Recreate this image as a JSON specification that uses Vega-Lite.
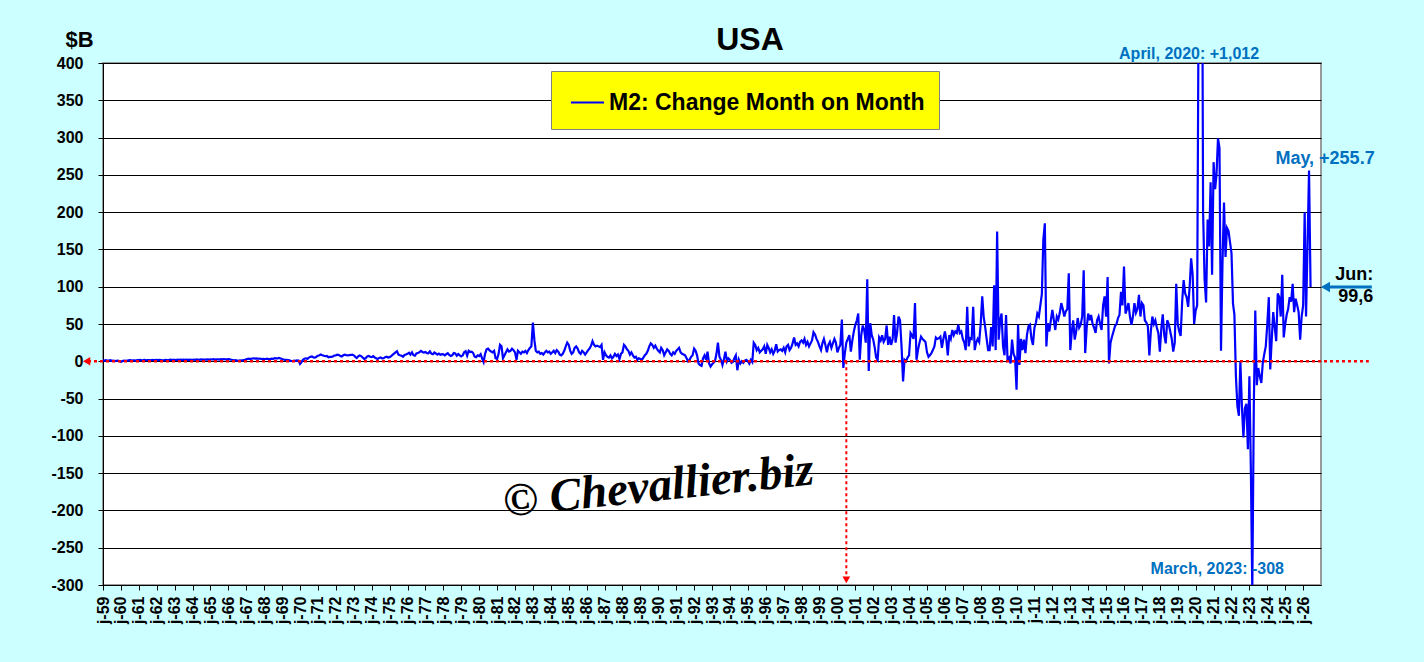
{
  "$schema": "https://vega.github.io/schema/vega-lite/v6.json",
  "width": 1218,
  "height": 522,
  "autosize": {"type": "none"},
  "padding": {"left": 103, "top": 63, "right": 103, "bottom": 77},
  "background": "#CCFFFF",
  "title": {"text": "USA", "fontSize": 32, "font": "Liberation Sans", "fontWeight": "bold", "color": "black", "anchor": "middle", "dx": 38, "dy": 33, "offset": 4},
  "config": {
    "view": {"fill": "white", "stroke": "#9A9A9A", "strokeWidth": 2},
    "axis": {"labelFont": "Liberation Sans", "labelFontWeight": "bold", "labelColor": "black", "labelFontSize": 16, "domainColor": "black", "tickColor": "black", "tickSize": 5, "titleFont": "Liberation Sans", "titleColor": "black"},
    "legend": {"orient": "none", "legendX": 448, "legendY": 8, "fillColor": "#FFFF00", "strokeColor": "#808080", "padding": 14, "symbolOffset": 5, "labelFont": "Liberation Sans", "labelFontSize": 23, "labelFontWeight": "bold", "labelColor": "black", "labelLimit": 600, "labelOffset": 4, "symbolType": "stroke", "symbolSize": 1089, "symbolStrokeWidth": 2}
  },
  "datasets": {
    "m2": [
{"d":"1959-01","v":1.2},{"d":"1959-02","v":1.0},{"d":"1959-03","v":1.4},{"d":"1959-04","v":0.8},{"d":"1959-05","v":1.1},{"d":"1959-06","v":1.5},{"d":"1959-07","v":0.6},{"d":"1959-08","v":0.9},{"d":"1959-09","v":0.3},{"d":"1959-10","v":0.7},{"d":"1959-11","v":1.0},{"d":"1959-12","v":0.5},
{"d":"1960-01","v":-0.6},{"d":"1960-02","v":0.2},{"d":"1960-03","v":0.8},{"d":"1960-04","v":0.6},{"d":"1960-05","v":1.0},{"d":"1960-06","v":1.2},{"d":"1960-07","v":1.6},{"d":"1960-08","v":1.4},{"d":"1960-09","v":1.1},{"d":"1960-10","v":1.3},{"d":"1960-11","v":1.0},{"d":"1960-12","v":1.5},
{"d":"1961-01","v":1.6},{"d":"1961-02","v":1.8},{"d":"1961-03","v":1.3},{"d":"1961-04","v":1.5},{"d":"1961-05","v":2.0},{"d":"1961-06","v":1.4},{"d":"1961-07","v":1.6},{"d":"1961-08","v":1.7},{"d":"1961-09","v":1.4},{"d":"1961-10","v":1.9},{"d":"1961-11","v":1.7},{"d":"1961-12","v":1.5},
{"d":"1962-01","v":1.8},{"d":"1962-02","v":1.6},{"d":"1962-03","v":2.0},{"d":"1962-04","v":1.7},{"d":"1962-05","v":1.4},{"d":"1962-06","v":1.5},{"d":"1962-07","v":1.8},{"d":"1962-08","v":1.6},{"d":"1962-09","v":1.7},{"d":"1962-10","v":2.1},{"d":"1962-11","v":1.9},{"d":"1962-12","v":1.8},
{"d":"1963-01","v":2.0},{"d":"1963-02","v":1.7},{"d":"1963-03","v":2.2},{"d":"1963-04","v":1.9},{"d":"1963-05","v":2.3},{"d":"1963-06","v":1.8},{"d":"1963-07","v":2.1},{"d":"1963-08","v":1.9},{"d":"1963-09","v":2.2},{"d":"1963-10","v":2.0},{"d":"1963-11","v":2.3},{"d":"1963-12","v":1.9},
{"d":"1964-01","v":2.1},{"d":"1964-02","v":2.3},{"d":"1964-03","v":1.9},{"d":"1964-04","v":2.4},{"d":"1964-05","v":2.0},{"d":"1964-06","v":2.3},{"d":"1964-07","v":2.6},{"d":"1964-08","v":2.2},{"d":"1964-09","v":2.4},{"d":"1964-10","v":2.3},{"d":"1964-11","v":2.5},{"d":"1964-12","v":2.3},
{"d":"1965-01","v":2.6},{"d":"1965-02","v":2.4},{"d":"1965-03","v":2.8},{"d":"1965-04","v":2.2},{"d":"1965-05","v":2.5},{"d":"1965-06","v":2.7},{"d":"1965-07","v":2.3},{"d":"1965-08","v":2.9},{"d":"1965-09","v":2.6},{"d":"1965-10","v":3.0},{"d":"1965-11","v":2.5},{"d":"1965-12","v":2.7},
{"d":"1966-01","v":2.8},{"d":"1966-02","v":2.5},{"d":"1966-03","v":2.1},{"d":"1966-04","v":1.7},{"d":"1966-05","v":1.3},{"d":"1966-06","v":1.5},{"d":"1966-07","v":0.7},{"d":"1966-08","v":1.0},{"d":"1966-09","v":1.3},{"d":"1966-10","v":0.9},{"d":"1966-11","v":1.6},{"d":"1966-12","v":2.0},
{"d":"1967-01","v":2.8},{"d":"1967-02","v":3.2},{"d":"1967-03","v":3.6},{"d":"1967-04","v":3.0},{"d":"1967-05","v":3.7},{"d":"1967-06","v":4.0},{"d":"1967-07","v":3.5},{"d":"1967-08","v":3.8},{"d":"1967-09","v":3.4},{"d":"1967-10","v":3.6},{"d":"1967-11","v":3.1},{"d":"1967-12","v":3.3},
{"d":"1968-01","v":2.9},{"d":"1968-02","v":3.1},{"d":"1968-03","v":3.4},{"d":"1968-04","v":2.8},{"d":"1968-05","v":3.0},{"d":"1968-06","v":3.6},{"d":"1968-07","v":3.2},{"d":"1968-08","v":4.2},{"d":"1968-09","v":3.8},{"d":"1968-10","v":4.0},{"d":"1968-11","v":4.4},{"d":"1968-12","v":3.7},
{"d":"1969-01","v":3.0},{"d":"1969-02","v":2.4},{"d":"1969-03","v":2.0},{"d":"1969-04","v":1.8},{"d":"1969-05","v":1.6},{"d":"1969-06","v":1.2},{"d":"1969-07","v":0.4},{"d":"1969-08","v":0.2},{"d":"1969-09","v":0.8},{"d":"1969-10","v":0.6},{"d":"1969-11","v":1.2},{"d":"1969-12","v":1.0},
{"d":"1970-01","v":-3.5},{"d":"1970-02","v":-1.0},{"d":"1970-03","v":2.0},{"d":"1970-04","v":3.5},{"d":"1970-05","v":4.0},{"d":"1970-06","v":3.2},{"d":"1970-07","v":5.0},{"d":"1970-08","v":6.0},{"d":"1970-09","v":6.5},{"d":"1970-10","v":5.2},{"d":"1970-11","v":4.8},{"d":"1970-12","v":6.1},
{"d":"1971-01","v":7.5},{"d":"1971-02","v":8.0},{"d":"1971-03","v":9.0},{"d":"1971-04","v":8.2},{"d":"1971-05","v":7.5},{"d":"1971-06","v":6.8},{"d":"1971-07","v":7.2},{"d":"1971-08","v":5.5},{"d":"1971-09","v":6.0},{"d":"1971-10","v":5.8},{"d":"1971-11","v":6.5},{"d":"1971-12","v":7.8},
{"d":"1972-01","v":8.0},{"d":"1972-02","v":9.0},{"d":"1972-03","v":8.5},{"d":"1972-04","v":7.2},{"d":"1972-05","v":6.5},{"d":"1972-06","v":8.0},{"d":"1972-07","v":8.8},{"d":"1972-08","v":8.2},{"d":"1972-09","v":7.8},{"d":"1972-10","v":8.2},{"d":"1972-11","v":8.5},{"d":"1972-12","v":9.0},
{"d":"1973-01","v":8.0},{"d":"1973-02","v":6.0},{"d":"1973-03","v":4.5},{"d":"1973-04","v":6.5},{"d":"1973-05","v":7.8},{"d":"1973-06","v":7.0},{"d":"1973-07","v":5.0},{"d":"1973-08","v":3.2},{"d":"1973-09","v":4.0},{"d":"1973-10","v":6.5},{"d":"1973-11","v":7.2},{"d":"1973-12","v":6.0},
{"d":"1974-01","v":5.5},{"d":"1974-02","v":6.8},{"d":"1974-03","v":5.2},{"d":"1974-04","v":4.0},{"d":"1974-05","v":3.0},{"d":"1974-06","v":4.5},{"d":"1974-07","v":5.2},{"d":"1974-08","v":3.8},{"d":"1974-09","v":4.0},{"d":"1974-10","v":5.5},{"d":"1974-11","v":6.2},{"d":"1974-12","v":5.0},
{"d":"1975-01","v":5.5},{"d":"1975-02","v":6.8},{"d":"1975-03","v":8.5},{"d":"1975-04","v":10.2},{"d":"1975-05","v":12.0},{"d":"1975-06","v":13.5},{"d":"1975-07","v":9.0},{"d":"1975-08","v":8.2},{"d":"1975-09","v":7.5},{"d":"1975-10","v":6.0},{"d":"1975-11","v":8.5},{"d":"1975-12","v":9.0},
{"d":"1976-01","v":10.0},{"d":"1976-02","v":11.5},{"d":"1976-03","v":9.0},{"d":"1976-04","v":12.0},{"d":"1976-05","v":8.2},{"d":"1976-06","v":7.5},{"d":"1976-07","v":10.5},{"d":"1976-08","v":11.0},{"d":"1976-09","v":12.2},{"d":"1976-10","v":14.0},{"d":"1976-11","v":12.5},{"d":"1976-12","v":11.8},
{"d":"1977-01","v":12.5},{"d":"1977-02","v":11.0},{"d":"1977-03","v":10.8},{"d":"1977-04","v":13.2},{"d":"1977-05","v":10.2},{"d":"1977-06","v":9.5},{"d":"1977-07","v":11.8},{"d":"1977-08","v":10.5},{"d":"1977-09","v":9.0},{"d":"1977-10","v":10.2},{"d":"1977-11","v":8.8},{"d":"1977-12","v":9.5},
{"d":"1978-01","v":9.2},{"d":"1978-02","v":8.0},{"d":"1978-03","v":9.5},{"d":"1978-04","v":10.8},{"d":"1978-05","v":8.5},{"d":"1978-06","v":7.2},{"d":"1978-07","v":8.0},{"d":"1978-08","v":11.0},{"d":"1978-09","v":10.5},{"d":"1978-10","v":7.5},{"d":"1978-11","v":9.8},{"d":"1978-12","v":8.0},
{"d":"1979-01","v":6.5},{"d":"1979-02","v":8.0},{"d":"1979-03","v":12.0},{"d":"1979-04","v":13.5},{"d":"1979-05","v":7.5},{"d":"1979-06","v":14.0},{"d":"1979-07","v":12.5},{"d":"1979-08","v":13.0},{"d":"1979-09","v":11.0},{"d":"1979-10","v":6.2},{"d":"1979-11","v":5.5},{"d":"1979-12","v":8.0},
{"d":"1980-01","v":7.0},{"d":"1980-02","v":9.5},{"d":"1980-03","v":4.0},{"d":"1980-04","v":-1.0},{"d":"1980-05","v":10.0},{"d":"1980-06","v":16.0},{"d":"1980-07","v":17.0},{"d":"1980-08","v":14.5},{"d":"1980-09","v":13.0},{"d":"1980-10","v":12.0},{"d":"1980-11","v":14.0},{"d":"1980-12","v":4.0},
{"d":"1981-01","v":3.0},{"d":"1981-02","v":10.0},{"d":"1981-03","v":22.0},{"d":"1981-04","v":20.0},{"d":"1981-05","v":4.0},{"d":"1981-06","v":8.0},{"d":"1981-07","v":12.0},{"d":"1981-08","v":16.0},{"d":"1981-09","v":13.0},{"d":"1981-10","v":14.0},{"d":"1981-11","v":17.0},{"d":"1981-12","v":15.0},
{"d":"1982-01","v":12.0},{"d":"1982-02","v":2.0},{"d":"1982-03","v":14.0},{"d":"1982-04","v":12.0},{"d":"1982-05","v":10.0},{"d":"1982-06","v":13.0},{"d":"1982-07","v":12.0},{"d":"1982-08","v":14.0},{"d":"1982-09","v":11.0},{"d":"1982-10","v":15.0},{"d":"1982-11","v":18.0},{"d":"1982-12","v":20.0},
{"d":"1983-01","v":52.0},{"d":"1983-02","v":28.0},{"d":"1983-03","v":14.0},{"d":"1983-04","v":12.0},{"d":"1983-05","v":13.0},{"d":"1983-06","v":10.0},{"d":"1983-07","v":11.0},{"d":"1983-08","v":9.0},{"d":"1983-09","v":12.0},{"d":"1983-10","v":14.0},{"d":"1983-11","v":12.0},{"d":"1983-12","v":13.0},
{"d":"1984-01","v":10.0},{"d":"1984-02","v":12.0},{"d":"1984-03","v":14.0},{"d":"1984-04","v":11.0},{"d":"1984-05","v":15.0},{"d":"1984-06","v":13.0},{"d":"1984-07","v":9.0},{"d":"1984-08","v":8.0},{"d":"1984-09","v":10.0},{"d":"1984-10","v":14.0},{"d":"1984-11","v":20.0},{"d":"1984-12","v":25.0},
{"d":"1985-01","v":22.0},{"d":"1985-02","v":14.0},{"d":"1985-03","v":10.0},{"d":"1985-04","v":12.0},{"d":"1985-05","v":18.0},{"d":"1985-06","v":20.0},{"d":"1985-07","v":17.0},{"d":"1985-08","v":12.0},{"d":"1985-09","v":10.0},{"d":"1985-10","v":14.0},{"d":"1985-11","v":12.0},{"d":"1985-12","v":9.0},
{"d":"1986-01","v":12.0},{"d":"1986-02","v":15.0},{"d":"1986-03","v":17.0},{"d":"1986-04","v":21.0},{"d":"1986-05","v":27.0},{"d":"1986-06","v":22.0},{"d":"1986-07","v":20.0},{"d":"1986-08","v":21.0},{"d":"1986-09","v":20.0},{"d":"1986-10","v":19.0},{"d":"1986-11","v":22.0},{"d":"1986-12","v":2.0},
{"d":"1987-01","v":12.0},{"d":"1987-02","v":8.0},{"d":"1987-03","v":6.0},{"d":"1987-04","v":5.0},{"d":"1987-05","v":8.0},{"d":"1987-06","v":4.0},{"d":"1987-07","v":6.0},{"d":"1987-08","v":10.0},{"d":"1987-09","v":7.0},{"d":"1987-10","v":9.0},{"d":"1987-11","v":3.0},{"d":"1987-12","v":10.0},
{"d":"1988-01","v":12.0},{"d":"1988-02","v":22.0},{"d":"1988-03","v":20.0},{"d":"1988-04","v":16.0},{"d":"1988-05","v":14.0},{"d":"1988-06","v":9.0},{"d":"1988-07","v":12.0},{"d":"1988-08","v":8.0},{"d":"1988-09","v":5.0},{"d":"1988-10","v":6.0},{"d":"1988-11","v":2.0},{"d":"1988-12","v":4.0},
{"d":"1989-01","v":3.0},{"d":"1989-02","v":2.0},{"d":"1989-03","v":5.0},{"d":"1989-04","v":8.0},{"d":"1989-05","v":10.0},{"d":"1989-06","v":14.0},{"d":"1989-07","v":20.0},{"d":"1989-08","v":24.0},{"d":"1989-09","v":22.0},{"d":"1989-10","v":18.0},{"d":"1989-11","v":21.0},{"d":"1989-12","v":17.0},
{"d":"1990-01","v":14.0},{"d":"1990-02","v":12.0},{"d":"1990-03","v":18.0},{"d":"1990-04","v":15.0},{"d":"1990-05","v":8.0},{"d":"1990-06","v":12.0},{"d":"1990-07","v":16.0},{"d":"1990-08","v":14.0},{"d":"1990-09","v":10.0},{"d":"1990-10","v":8.0},{"d":"1990-11","v":12.0},{"d":"1990-12","v":10.0},
{"d":"1991-01","v":14.0},{"d":"1991-02","v":16.0},{"d":"1991-03","v":18.0},{"d":"1991-04","v":12.0},{"d":"1991-05","v":10.0},{"d":"1991-06","v":9.0},{"d":"1991-07","v":8.0},{"d":"1991-08","v":4.0},{"d":"1991-09","v":0.0},{"d":"1991-10","v":2.0},{"d":"1991-11","v":6.0},{"d":"1991-12","v":8.0},
{"d":"1992-01","v":17.0},{"d":"1992-02","v":14.0},{"d":"1992-03","v":8.0},{"d":"1992-04","v":-3.0},{"d":"1992-05","v":-5.0},{"d":"1992-06","v":-6.0},{"d":"1992-07","v":4.0},{"d":"1992-08","v":8.0},{"d":"1992-09","v":2.0},{"d":"1992-10","v":13.0},{"d":"1992-11","v":-3.0},{"d":"1992-12","v":-7.0},
{"d":"1993-01","v":-4.0},{"d":"1993-02","v":-2.0},{"d":"1993-03","v":0.0},{"d":"1993-04","v":10.0},{"d":"1993-05","v":25.0},{"d":"1993-06","v":6.0},{"d":"1993-07","v":2.0},{"d":"1993-08","v":-5.0},{"d":"1993-09","v":3.0},{"d":"1993-10","v":13.0},{"d":"1993-11","v":0.0},{"d":"1993-12","v":4.0},
{"d":"1994-01","v":2.0},{"d":"1994-02","v":-2.0},{"d":"1994-03","v":-1.0},{"d":"1994-04","v":4.0},{"d":"1994-05","v":8.0},{"d":"1994-06","v":-12.0},{"d":"1994-07","v":2.0},{"d":"1994-08","v":-3.0},{"d":"1994-09","v":0.0},{"d":"1994-10","v":-2.0},{"d":"1994-11","v":1.0},{"d":"1994-12","v":2.0},
{"d":"1995-01","v":0.0},{"d":"1995-02","v":-3.0},{"d":"1995-03","v":2.0},{"d":"1995-04","v":-1.0},{"d":"1995-05","v":25.0},{"d":"1995-06","v":22.0},{"d":"1995-07","v":15.0},{"d":"1995-08","v":18.0},{"d":"1995-09","v":12.0},{"d":"1995-10","v":14.0},{"d":"1995-11","v":16.0},{"d":"1995-12","v":20.0},
{"d":"1996-01","v":10.0},{"d":"1996-02","v":22.0},{"d":"1996-03","v":18.0},{"d":"1996-04","v":12.0},{"d":"1996-05","v":16.0},{"d":"1996-06","v":10.0},{"d":"1996-07","v":14.0},{"d":"1996-08","v":23.0},{"d":"1996-09","v":13.0},{"d":"1996-10","v":15.0},{"d":"1996-11","v":16.0},{"d":"1996-12","v":14.0},
{"d":"1997-01","v":18.0},{"d":"1997-02","v":12.0},{"d":"1997-03","v":20.0},{"d":"1997-04","v":22.0},{"d":"1997-05","v":15.0},{"d":"1997-06","v":18.0},{"d":"1997-07","v":24.0},{"d":"1997-08","v":32.0},{"d":"1997-09","v":22.0},{"d":"1997-10","v":24.0},{"d":"1997-11","v":20.0},{"d":"1997-12","v":26.0},
{"d":"1998-01","v":28.0},{"d":"1998-02","v":25.0},{"d":"1998-03","v":30.0},{"d":"1998-04","v":22.0},{"d":"1998-05","v":26.0},{"d":"1998-06","v":20.0},{"d":"1998-07","v":24.0},{"d":"1998-08","v":28.0},{"d":"1998-09","v":39.0},{"d":"1998-10","v":36.0},{"d":"1998-11","v":30.0},{"d":"1998-12","v":26.0},
{"d":"1999-01","v":20.0},{"d":"1999-02","v":15.0},{"d":"1999-03","v":24.0},{"d":"1999-04","v":30.0},{"d":"1999-05","v":22.0},{"d":"1999-06","v":12.0},{"d":"1999-07","v":22.0},{"d":"1999-08","v":26.0},{"d":"1999-09","v":18.0},{"d":"1999-10","v":24.0},{"d":"1999-11","v":30.0},{"d":"1999-12","v":25.0},
{"d":"2000-01","v":12},{"d":"2000-02","v":18},{"d":"2000-03","v":22},{"d":"2000-04","v":56},{"d":"2000-05","v":-9},{"d":"2000-06","v":11},{"d":"2000-07","v":25},{"d":"2000-08","v":30},{"d":"2000-09","v":35},{"d":"2000-10","v":13},{"d":"2000-11","v":28},{"d":"2000-12","v":40},
{"d":"2001-01","v":49},{"d":"2001-02","v":55},{"d":"2001-03","v":64},{"d":"2001-04","v":2},{"d":"2001-05","v":35},{"d":"2001-06","v":48},{"d":"2001-07","v":42},{"d":"2001-08","v":25},{"d":"2001-09","v":110},{"d":"2001-10","v":-13},{"d":"2001-11","v":51},{"d":"2001-12","v":35},
{"d":"2002-01","v":29},{"d":"2002-02","v":18},{"d":"2002-03","v":5},{"d":"2002-04","v":2},{"d":"2002-05","v":32},{"d":"2002-06","v":28},{"d":"2002-07","v":35},{"d":"2002-08","v":26},{"d":"2002-09","v":30},{"d":"2002-10","v":48},{"d":"2002-11","v":22},{"d":"2002-12","v":33},
{"d":"2003-01","v":22},{"d":"2003-02","v":30},{"d":"2003-03","v":62},{"d":"2003-04","v":25},{"d":"2003-05","v":38},{"d":"2003-06","v":60},{"d":"2003-07","v":55},{"d":"2003-08","v":20},{"d":"2003-09","v":-27},{"d":"2003-10","v":2},{"d":"2003-11","v":0},{"d":"2003-12","v":5},
{"d":"2004-01","v":8},{"d":"2004-02","v":38},{"d":"2004-03","v":35},{"d":"2004-04","v":30},{"d":"2004-05","v":78},{"d":"2004-06","v":2},{"d":"2004-07","v":15},{"d":"2004-08","v":25},{"d":"2004-09","v":33},{"d":"2004-10","v":30},{"d":"2004-11","v":28},{"d":"2004-12","v":26},
{"d":"2005-01","v":12},{"d":"2005-02","v":6},{"d":"2005-03","v":8},{"d":"2005-04","v":11},{"d":"2005-05","v":15},{"d":"2005-06","v":20},{"d":"2005-07","v":32},{"d":"2005-08","v":30},{"d":"2005-09","v":31},{"d":"2005-10","v":33},{"d":"2005-11","v":18},{"d":"2005-12","v":30},
{"d":"2006-01","v":40},{"d":"2006-02","v":28},{"d":"2006-03","v":8},{"d":"2006-04","v":35},{"d":"2006-05","v":30},{"d":"2006-06","v":42},{"d":"2006-07","v":35},{"d":"2006-08","v":40},{"d":"2006-09","v":38},{"d":"2006-10","v":49},{"d":"2006-11","v":38},{"d":"2006-12","v":40},
{"d":"2007-01","v":30},{"d":"2007-02","v":25},{"d":"2007-03","v":15},{"d":"2007-04","v":73},{"d":"2007-05","v":20},{"d":"2007-06","v":31},{"d":"2007-07","v":30},{"d":"2007-08","v":73},{"d":"2007-09","v":15},{"d":"2007-10","v":25},{"d":"2007-11","v":30},{"d":"2007-12","v":26},
{"d":"2008-01","v":50},{"d":"2008-02","v":87},{"d":"2008-03","v":60},{"d":"2008-04","v":46},{"d":"2008-05","v":30},{"d":"2008-06","v":15},{"d":"2008-07","v":15},{"d":"2008-08","v":46},{"d":"2008-09","v":20},{"d":"2008-10","v":102},{"d":"2008-11","v":15},{"d":"2008-12","v":174},
{"d":"2009-01","v":29},{"d":"2009-02","v":55},{"d":"2009-03","v":64},{"d":"2009-04","v":20},{"d":"2009-05","v":8},{"d":"2009-06","v":62},{"d":"2009-07","v":2},{"d":"2009-08","v":5},{"d":"2009-09","v":-3},{"d":"2009-10","v":29},{"d":"2009-11","v":10},{"d":"2009-12","v":5},
{"d":"2010-01","v":-38},{"d":"2010-02","v":49},{"d":"2010-03","v":-5},{"d":"2010-04","v":30},{"d":"2010-05","v":15},{"d":"2010-06","v":29},{"d":"2010-07","v":11},{"d":"2010-08","v":35},{"d":"2010-09","v":47},{"d":"2010-10","v":49},{"d":"2010-11","v":30},{"d":"2010-12","v":22},
{"d":"2011-01","v":45},{"d":"2011-02","v":52},{"d":"2011-03","v":64},{"d":"2011-04","v":60},{"d":"2011-05","v":75},{"d":"2011-06","v":90},{"d":"2011-07","v":163},{"d":"2011-08","v":185},{"d":"2011-09","v":20},{"d":"2011-10","v":51},{"d":"2011-11","v":40},{"d":"2011-12","v":55},
{"d":"2012-01","v":69},{"d":"2012-02","v":55},{"d":"2012-03","v":42},{"d":"2012-04","v":60},{"d":"2012-05","v":56},{"d":"2012-06","v":65},{"d":"2012-07","v":78},{"d":"2012-08","v":70},{"d":"2012-09","v":60},{"d":"2012-10","v":67},{"d":"2012-11","v":70},{"d":"2012-12","v":118},
{"d":"2013-01","v":15},{"d":"2013-02","v":40},{"d":"2013-03","v":55},{"d":"2013-04","v":29},{"d":"2013-05","v":40},{"d":"2013-06","v":58},{"d":"2013-07","v":45},{"d":"2013-08","v":49},{"d":"2013-09","v":60},{"d":"2013-10","v":122},{"d":"2013-11","v":11},{"d":"2013-12","v":45},
{"d":"2014-01","v":64},{"d":"2014-02","v":55},{"d":"2014-03","v":62},{"d":"2014-04","v":50},{"d":"2014-05","v":45},{"d":"2014-06","v":38},{"d":"2014-07","v":55},{"d":"2014-08","v":60},{"d":"2014-09","v":50},{"d":"2014-10","v":42},{"d":"2014-11","v":75},{"d":"2014-12","v":87},
{"d":"2015-01","v":60},{"d":"2015-02","v":113},{"d":"2015-03","v":-3},{"d":"2015-04","v":25},{"d":"2015-05","v":33},{"d":"2015-06","v":40},{"d":"2015-07","v":47},{"d":"2015-08","v":50},{"d":"2015-09","v":58},{"d":"2015-10","v":62},{"d":"2015-11","v":93},{"d":"2015-12","v":75},
{"d":"2016-01","v":127},{"d":"2016-02","v":64},{"d":"2016-03","v":70},{"d":"2016-04","v":78},{"d":"2016-05","v":60},{"d":"2016-06","v":49},{"d":"2016-07","v":60},{"d":"2016-08","v":78},{"d":"2016-09","v":65},{"d":"2016-10","v":70},{"d":"2016-11","v":89},{"d":"2016-12","v":60},
{"d":"2017-01","v":78},{"d":"2017-02","v":75},{"d":"2017-03","v":55},{"d":"2017-04","v":52},{"d":"2017-05","v":47},{"d":"2017-06","v":8},{"d":"2017-07","v":40},{"d":"2017-08","v":60},{"d":"2017-09","v":50},{"d":"2017-10","v":55},{"d":"2017-11","v":45},{"d":"2017-12","v":38},
{"d":"2018-01","v":13},{"d":"2018-02","v":45},{"d":"2018-03","v":63},{"d":"2018-04","v":35},{"d":"2018-05","v":24},{"d":"2018-06","v":55},{"d":"2018-07","v":50},{"d":"2018-08","v":40},{"d":"2018-09","v":30},{"d":"2018-10","v":13},{"d":"2018-11","v":25},{"d":"2018-12","v":104},
{"d":"2019-01","v":50},{"d":"2019-02","v":40},{"d":"2019-03","v":34},{"d":"2019-04","v":80},{"d":"2019-05","v":109},{"d":"2019-06","v":91},{"d":"2019-07","v":86},{"d":"2019-08","v":73},{"d":"2019-09","v":100},{"d":"2019-10","v":138},{"d":"2019-11","v":116},{"d":"2019-12","v":50},
{"d":"2020-01","v":68},{"d":"2020-02","v":75},{"d":"2020-03","v":480},{"d":"2020-04","v":1012},{"d":"2020-05","v":780},{"d":"2020-06","v":200},{"d":"2020-07","v":110},{"d":"2020-08","v":79},{"d":"2020-09","v":190},{"d":"2020-10","v":154},{"d":"2020-11","v":240},{"d":"2020-12","v":116},
{"d":"2021-01","v":267},{"d":"2021-02","v":231},{"d":"2021-03","v":250},{"d":"2021-04","v":299},{"d":"2021-05","v":286},{"d":"2021-06","v":14},{"d":"2021-07","v":130},{"d":"2021-08","v":213},{"d":"2021-09","v":140},{"d":"2021-10","v":179},{"d":"2021-11","v":175},{"d":"2021-12","v":160},
{"d":"2022-01","v":145},{"d":"2022-02","v":77},{"d":"2022-03","v":63},{"d":"2022-04","v":-20},{"d":"2022-05","v":-60},{"d":"2022-06","v":-73},{"d":"2022-07","v":0},{"d":"2022-08","v":-60},{"d":"2022-09","v":-102},{"d":"2022-10","v":-63},{"d":"2022-11","v":-57},{"d":"2022-12","v":-118},
{"d":"2023-01","v":-20},{"d":"2023-02","v":-150},{"d":"2023-03","v":-308},{"d":"2023-04","v":-60},{"d":"2023-05","v":68},{"d":"2023-06","v":-32},{"d":"2023-07","v":-9},{"d":"2023-08","v":-20},{"d":"2023-09","v":-29},{"d":"2023-10","v":-2},{"d":"2023-11","v":10},{"d":"2023-12","v":20},
{"d":"2024-01","v":50},{"d":"2024-02","v":86},{"d":"2024-03","v":-11},{"d":"2024-04","v":30},{"d":"2024-05","v":66},{"d":"2024-06","v":45},{"d":"2024-07","v":27},{"d":"2024-08","v":91},{"d":"2024-09","v":86},{"d":"2024-10","v":60},{"d":"2024-11","v":116},{"d":"2024-12","v":32},
{"d":"2025-01","v":50},{"d":"2025-02","v":63},{"d":"2025-03","v":70},{"d":"2025-04","v":86},{"d":"2025-05","v":80},{"d":"2025-06","v":104},{"d":"2025-07","v":66},{"d":"2025-08","v":84},{"d":"2025-09","v":75},{"d":"2025-10","v":66},{"d":"2025-11","v":29},{"d":"2025-12","v":60},
{"d":"2026-01","v":75},{"d":"2026-02","v":200},{"d":"2026-03","v":60},{"d":"2026-04","v":158},{"d":"2026-05","v":255.7},{"d":"2026-06","v":99.6}
    ]
  },
  "encoding": {
    "x": {
      "field": "d", "type": "temporal",
      "scale": {"type": "utc", "domain": [{"year": 1959, "month": 1, "date": 1, "utc": true}, {"year": 2026, "month": 12, "date": 31, "utc": true}]},
      "axis": {"title": null, "grid": false, "tickCount": {"interval": "year", "step": 1}, "labelExpr": "'j-' + utcFormat(datum.value, '%y')", "labelAngle": -90, "labelOverlap": false, "labelFlush": false, "labelBound": false, "labelPadding": 6}
    },
    "y": {
      "field": "v", "type": "quantitative",
      "scale": {"domain": [-300, 400], "nice": false, "zero": false},
      "axis": {"values": [-300, -250, -200, -150, -100, -50, 0, 50, 100, 150, 200, 250, 300, 350, 400], "tickCount": 30, "labelExpr": "'' + datum.value", "labelOverlap": false, "labelFlush": false, "grid": true, "gridColor": "black", "gridWidth": 1, "labelPadding": 15, "title": "$B", "titleAngle": 0, "titleX": -38, "titleY": -17, "titleAlign": "left", "titleBaseline": "alphabetic", "titleFontSize": 22, "titleFontWeight": "bold"}
    }
  },
  "layer": [
    {
      "data": {"name": "m2"},
      "mark": {"type": "line", "strokeWidth": 2.2, "clip": true},
      "encoding": {
        "color": {"datum": "M2: Change Month on Month", "scale": {"range": ["#0000FF"]}, "legend": {"title": null}}
      }
    },
    {
      "data": {"values": [{"d": "1958-03", "d2": "2029-09", "v": 0}]},
      "mark": {"type": "rule", "color": "#FF0000", "strokeWidth": 2.5, "strokeDash": [3, 3]},
      "encoding": {"x2": {"field": "d2"}}
    },
    {
      "data": {"values": [{"d": "1958-02", "v": 0}]},
      "mark": {"type": "point", "shape": "triangle-left", "filled": true, "color": "#FF0000", "size": 70, "opacity": 1},
      "encoding": {}
    },
    {
      "data": {"values": [{"d": "2000-07", "v": 0, "v2": -290}]},
      "mark": {"type": "rule", "color": "#FF0000", "strokeWidth": 2, "strokeDash": [3, 3]},
      "encoding": {"y2": {"field": "v2"}}
    },
    {
      "data": {"values": [{"d": "2000-07", "v": -293}]},
      "mark": {"type": "point", "shape": "triangle-down", "filled": true, "color": "#FF0000", "size": 60, "opacity": 1},
      "encoding": {}
    },
    {
      "data": {"values": [{"d": "2027-06", "d2": "2029-11", "v": 99.6}]},
      "mark": {"type": "rule", "color": "#0070C0", "strokeWidth": 3},
      "encoding": {"x2": {"field": "d2"}}
    },
    {
      "data": {"values": [{"d": "2027-04", "v": 99.6}]},
      "mark": {"type": "point", "shape": "triangle-left", "filled": true, "color": "#0070C0", "size": 110, "opacity": 1},
      "encoding": {}
    },
    {
      "data": {"values": [{"d": "2020-04", "v": 400, "t": "April, 2020: +1,012"}]},
      "mark": {"type": "text", "font": "Liberation Sans", "fontWeight": "bold", "fontSize": 16, "color": "#0070C0", "align": "center", "baseline": "alphabetic", "dx": -11, "dy": -4},
      "encoding": {"text": {"field": "t"}}
    },
    {
      "data": {"values": [{"d": "2026-05", "v": 255.7, "t": "May, +255.7"}]},
      "mark": {"type": "text", "font": "Liberation Sans", "fontWeight": "bold", "fontSize": 18, "color": "#0070C0", "align": "center", "baseline": "alphabetic", "dx": 16, "dy": -7},
      "encoding": {"text": {"field": "t"}}
    },
    {
      "data": {"values": [{"d": "2023-03", "v": -300, "t": "March, 2023:  -308"}]},
      "mark": {"type": "text", "font": "Liberation Sans", "fontWeight": "bold", "fontSize": 16, "color": "#0070C0", "align": "center", "baseline": "alphabetic", "dx": -35, "dy": -11},
      "encoding": {"text": {"field": "t"}}
    },
    {
      "data": {"values": [{"d": "2029-12", "v": 99.6, "t": "Jun:\n99,6"}]},
      "mark": {"type": "text", "font": "Liberation Sans", "fontWeight": "bold", "fontSize": 18, "color": "black", "align": "right", "baseline": "alphabetic", "dy": -7, "lineBreak": "\n", "lineHeight": 22},
      "encoding": {"text": {"field": "t"}}
    },
    {
      "data": {"values": [{"d": "1990-01", "v": -168, "t": "© Chevallier.biz"}]},
      "mark": {"type": "text", "font": "Liberation Serif", "fontStyle": "italic", "fontWeight": "bold", "fontSize": 47, "color": "black", "align": "center", "baseline": "middle", "angle": -6},
      "encoding": {"text": {"field": "t"}}
    }
  ]
}
